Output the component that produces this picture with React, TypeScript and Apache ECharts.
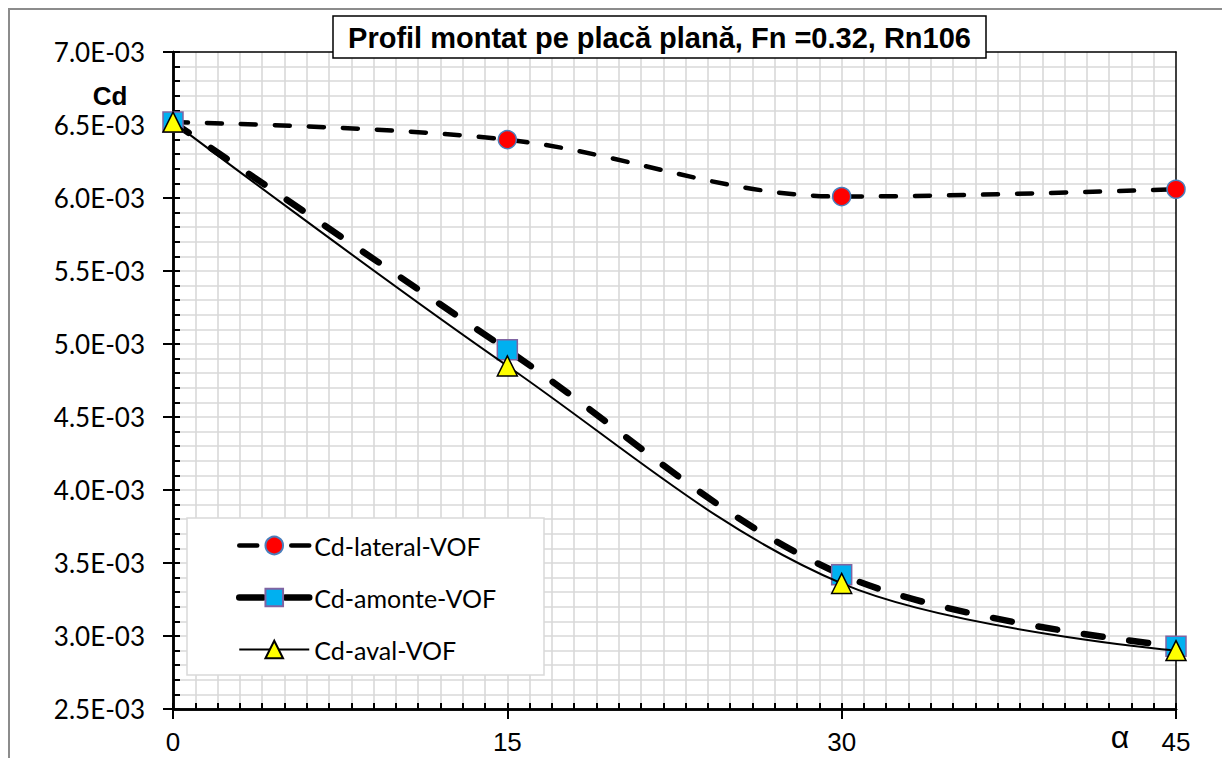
import React, { useEffect, useRef } from "react";
import * as echarts from "echarts";

const alphaValues = [0, 15, 30, 45];
const cdLateral = [6.52e-3, 6.40e-3, 6.01e-3, 6.06e-3];
const cdAmonte = [6.52e-3, 4.96e-3, 3.42e-3, 2.93e-3];
const cdAval = [6.52e-3, 4.85e-3, 3.36e-3, 2.90e-3];
const seriesNames = ["Cd-lateral-VOF", "Cd-amonte-VOF", "Cd-aval-VOF"];
const titleText = "Profil montat pe placă plană, Fn =0.32, Rn106";

const GRID = "#d9d9d9";

export default function App() {
  const ref = useRef<HTMLDivElement>(null);
  useEffect(() => {
    if (!ref.current) return;
    const chart = echarts.init(ref.current, undefined, { renderer: "svg" });
    const pts = (arr: number[]) => alphaValues.map((a, i) => [a, arr[i]]);
    const SMOOTH = 0.35;
    const option: any = {
      animation: false,
      backgroundColor: "#fff",
      grid: { left: 173, top: 52, right: 46, bottom: 49, show: true, backgroundColor: "#fff", borderWidth: 0 },
      xAxis: [
        {
          type: "value", min: 0, max: 45, interval: 15, position: "bottom", z: 0,
          axisLine: { show: true, onZero: false, lineStyle: { color: "#000", width: 2.5 } },
          axisTick: { show: true, inside: false, length: 10, lineStyle: { color: "#000", width: 2 } },
          axisLabel: { show: true, fontFamily: "Liberation Sans", fontSize: 26, color: "#000", margin: 20 },
          splitLine: { show: true, showMinLine: false, showMaxLine: false, lineStyle: { color: GRID, width: 1.6 } },
          minorTick: { show: false, splitNumber: 15 },
          minorSplitLine: { show: true, lineStyle: { color: GRID, width: 1.6 } },
        },
        {
          type: "value", min: 0, max: 45, interval: 1, position: "bottom", z: 1,
          axisLine: { show: true, onZero: false, lineStyle: { color: "#000", width: 2.5 } },
          axisTick: { show: true, inside: true, length: 6, lineStyle: { color: "#000", width: 2 } },
          axisLabel: { show: false },
          splitLine: { show: false },
        },
        {
          type: "value", min: 0, max: 45, position: "top", z: 1,
          axisLine: { show: true, onZero: false, lineStyle: { color: "#000", width: 1.5 } },
          axisTick: { show: false }, axisLabel: { show: false }, splitLine: { show: false },
        },
      ],
      yAxis: [
        {
          type: "value", min: 0.0025, max: 0.007, interval: 0.0005, position: "left", z: 0,
          axisLine: { show: true, onZero: false, lineStyle: { color: "#000", width: 2.5 } },
          axisTick: { show: true, inside: false, length: 10, lineStyle: { color: "#000", width: 2 } },
          axisLabel: {
            show: true, fontFamily: "Lato", fontSize: 26, color: "#000", margin: 28,
            formatter: (v: number) => (v * 1000).toFixed(1) + "E-03",
          },
          splitLine: { show: true, showMinLine: false, showMaxLine: false, lineStyle: { color: GRID, width: 1.6 } },
          minorTick: { show: false, splitNumber: 5 },
          minorSplitLine: { show: true, lineStyle: { color: GRID, width: 1.6 } },
        },
        {
          type: "value", min: 0.0025, max: 0.007, interval: 0.0001, position: "left", z: 1,
          axisLine: { show: true, onZero: false, lineStyle: { color: "#000", width: 2.5 } },
          axisTick: { show: true, inside: true, length: 7, lineStyle: { color: "#000", width: 2 } },
          axisLabel: { show: false },
          splitLine: { show: false },
        },
        {
          type: "value", min: 0.0025, max: 0.007, position: "right", z: 1,
          axisLine: { show: true, onZero: false, lineStyle: { color: "#000", width: 1.5 } },
          axisTick: { show: false }, axisLabel: { show: false }, splitLine: { show: false },
        },
      ],
      legend: {
        show: true, orient: "vertical", left: 236, top: 533, padding: 0,
        itemWidth: 70, itemHeight: 22, itemGap: 27, z: 6,
        textStyle: { fontFamily: "Lato", fontSize: 25, color: "#000" },
        data: [
          { name: seriesNames[0], lineStyle: { width: 4.5, type: [18, 34], cap: "round" } },
          { name: seriesNames[1], lineStyle: { width: 6.5, type: [24, 22], cap: "round" } },
          { name: seriesNames[2], lineStyle: { width: 2 } },
        ],
      },
      series: [
        {
          name: seriesNames[0], type: "line", smooth: SMOOTH, data: pts(cdLateral), z: 2,
          symbol: "circle", symbolSize: 18,
          lineStyle: { color: "#000", width: 4.5, type: [15, 19], cap: "round" },
          itemStyle: { color: "#ff0000", borderColor: "#4a7ebb", borderWidth: 1.5 },
        },
        {
          name: seriesNames[1], type: "line", smooth: SMOOTH, data: pts(cdAmonte), z: 3,
          symbol: "rect", symbolSize: 20,
          lineStyle: { color: "#000", width: 6.5, type: [19, 27], cap: "round" },
          itemStyle: { color: "#00b0f0", borderColor: "#8064a2", borderWidth: 1.5 },
        },
        {
          name: seriesNames[2], type: "line", smooth: SMOOTH, data: pts(cdAval), z: 4,
          symbol: "triangle", symbolSize: 20,
          lineStyle: { color: "#000", width: 2 },
          itemStyle: { color: "#ffff00", borderColor: "#000", borderWidth: 1.5 },
        },
      ],
      graphic: [
        {
          type: "rect", z: 0, silent: true,
          shape: { x: 9, y: 9, width: 1400, height: 900 },
          style: { fill: "none", stroke: "#8c8c8c", lineWidth: 2 },
        },
        {
          type: "rect", z: 5, silent: true,
          shape: { x: 187, y: 518, width: 357, height: 157 },
          style: { fill: "#fff", stroke: GRID, lineWidth: 1.5 },
        },
        {
          type: "rect", z: 7, silent: true,
          shape: { x: 333, y: 16, width: 653, height: 42 },
          style: { fill: "#fff", stroke: "#000", lineWidth: 1.5 },
        },
        {
          type: "text", z: 8, silent: true, x: 659.5, y: 38,
          style: {
            text: titleText, fill: "#000", font: 'bold 29px "Liberation Sans"',
            align: "center", verticalAlign: "middle", textAlign: "center", textVerticalAlign: "middle",
          },
        },
        {
          type: "text", z: 8, silent: true, x: 110, y: 96,
          style: {
            text: "Cd", fill: "#000", font: 'bold 26px "Liberation Sans"',
            align: "center", verticalAlign: "middle", textAlign: "center", textVerticalAlign: "middle",
          },
        },
        {
          type: "text", z: 8, silent: true, x: 1120, y: 737,
          style: {
            text: "α", fill: "#000", font: '32px "Liberation Sans"',
            align: "center", verticalAlign: "middle", textAlign: "center", textVerticalAlign: "middle",
          },
        },
      ],
    };
    chart.setOption(option);
    return () => chart.dispose();
  }, []);
  return (
    <div
      ref={ref}
      style={{ position: "absolute", left: 0, top: 0, width: 1222, height: 758, background: "#fff" }}
    />
  );
}
